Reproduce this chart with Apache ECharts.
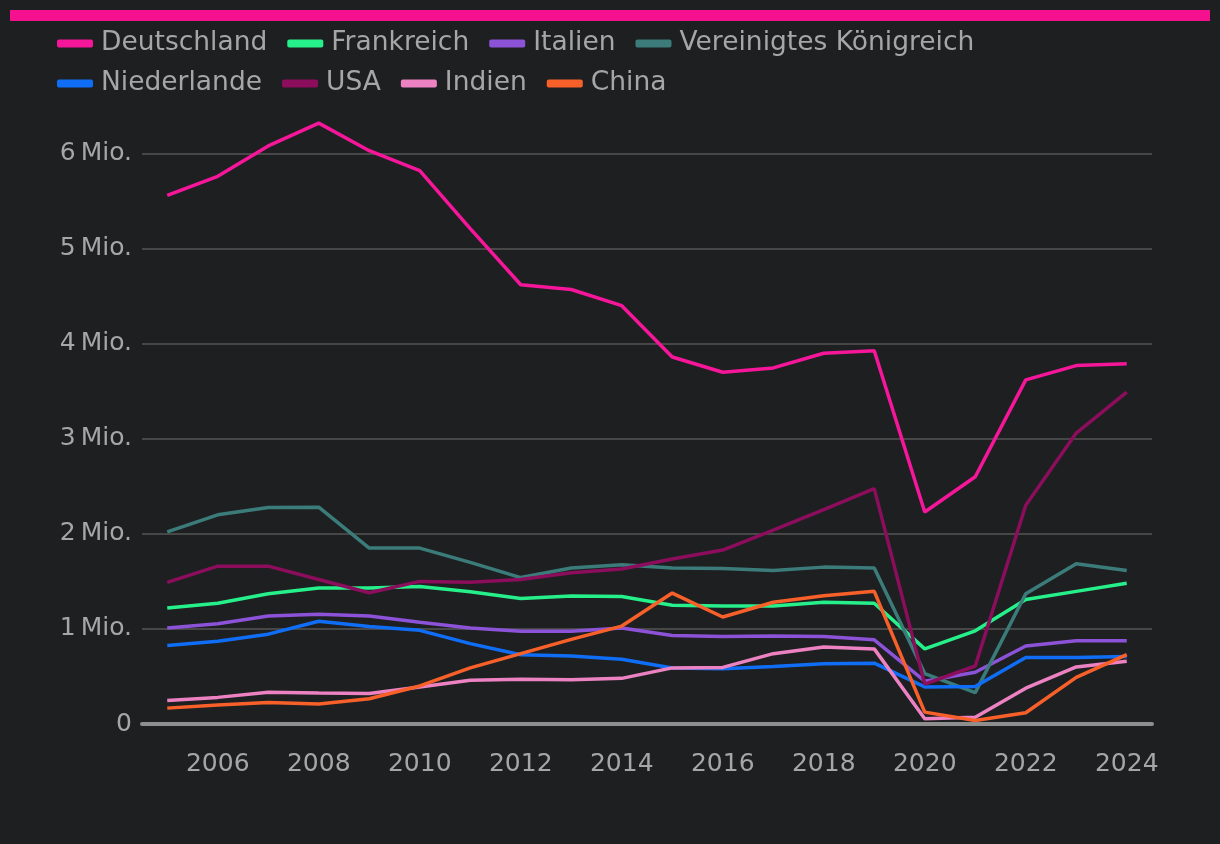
<!DOCTYPE html>
<html>
<head>
<meta charset="utf-8">
<script src="https://cdn.jsdelivr.net/npm/echarts@6/dist/echarts.min.js"></script>
<style>
html,body{margin:0;padding:0;background:#1e1f21;}
#chart{width:1220px;height:844px;}
</style>
</head>
<body>
<div id="chart"></div>
<script>
var years = ['2005','2006','2007','2008','2009','2010','2011','2012','2013','2014','2015','2016','2017','2018','2019','2020','2021','2022','2023','2024'];

var deutschland = [5.56,5.76,6.08,6.32,6.03,5.82,5.21,4.62,4.57,4.40,3.86,3.70,3.745,3.90,3.925,2.23,2.60,3.62,3.77,3.79];
var frankreich  = [1.22,1.27,1.37,1.43,1.43,1.447,1.39,1.32,1.345,1.34,1.25,1.24,1.24,1.28,1.27,0.79,0.98,1.31,1.395,1.48];
var italien     = [1.01,1.055,1.135,1.155,1.135,1.07,1.01,0.975,0.975,1.01,0.93,0.92,0.925,0.92,0.885,0.45,0.545,0.82,0.875,0.875];
var vk          = [2.02,2.20,2.276,2.28,1.85,1.85,1.70,1.54,1.64,1.675,1.64,1.635,1.615,1.65,1.64,0.53,0.33,1.37,1.686,1.615];
var niederlande = [0.826,0.87,0.945,1.08,1.026,0.985,0.845,0.728,0.715,0.68,0.59,0.58,0.605,0.634,0.64,0.39,0.395,0.70,0.70,0.71];
var usa         = [1.49,1.66,1.66,1.52,1.38,1.50,1.49,1.52,1.59,1.63,1.735,1.83,2.04,2.255,2.475,0.42,0.61,2.30,3.06,3.49];
var indien      = [0.247,0.28,0.335,0.325,0.32,0.39,0.46,0.47,0.465,0.48,0.59,0.595,0.74,0.81,0.79,0.055,0.07,0.377,0.60,0.66];
var china       = [0.167,0.20,0.226,0.21,0.265,0.40,0.59,0.74,0.89,1.03,1.377,1.125,1.28,1.35,1.395,0.125,0.037,0.118,0.49,0.73];

var seriesNames = ['Deutschland','Frankreich','Italien','Vereinigtes Königreich','Niederlande','USA','Indien','China'];
var legendRow1 = ['Deutschland','Frankreich','Italien','Vereinigtes Königreich'];
var legendRow2 = ['Niederlande','USA','Indien','China'];
var seriesData = [deutschland, frankreich, italien, vk, niederlande, usa, indien, china];
var colors = ['#f5169a','#26f08a','#8c52d8','#3b7c7a','#0f6ef5','#8b0d5c','#ec82c2','#f8602a'];

function toAbs(arr){ return arr.map(function(v){ return Math.round(v*1000000); }); }

var chart = echarts.init(document.getElementById('chart'), null, {renderer:'canvas'});
var FONT = 'DejaVu Sans';
var TXT = '#a6a6a6';

function legendCfg(data, top){
  return {
    data: data,
    left: 57,
    top: top,
    padding: 0,
    itemWidth: 36,
    itemHeight: 8,
    itemGap: 20,
    icon: 'roundRect',
    textStyle: {color: TXT, fontSize: 26.5, fontFamily: FONT, padding: [0,0,0,3]}
  };
}

var option = {
  backgroundColor: '#1e1f21',
  color: colors,
  animation: false,
  textStyle: {fontFamily: FONT},
  graphic: [{
    type: 'rect',
    shape: {x: 10, y: 10, width: 1200, height: 11},
    style: {fill: '#f5108f'}
  }],
  legend: [legendCfg(legendRow1, 30), legendCfg(legendRow2, 70)],
  grid: {left: 142, right: 68, top: 106, bottom: 120, containLabel: false},
  xAxis: {
    type: 'category',
    data: years,
    boundaryGap: true,
    axisLine: {show: true, lineStyle: {color: '#8e8e8e', width: 4}},
    axisTick: {show: false},
    axisLabel: {
      color: TXT, fontSize: 25, fontFamily: FONT, margin: 28,
      interval: function(i, v){ return parseInt(v,10) % 2 === 0; }
    },
    splitLine: {show: false}
  },
  yAxis: {
    type: 'value',
    min: 0,
    max: 6500000,
    interval: 1000000,
    axisLine: {show: false},
    axisTick: {show: false},
    splitLine: {show: true, showMaxLine: false, showMinLine: false, lineStyle: {color: '#565656', width: 1.5}},
    axisLabel: {
      color: TXT, fontSize: 25, fontFamily: FONT, margin: 10, showMaxLabel: false,
      formatter: function(v){
        if (v === 0) return '0';
        if (v % 1000000 !== 0) return '';
        return (v/1000000) + '\u2009Mio.';
      }
    }
  },
  series: seriesNames.map(function(n, i){
    return {
      name: n,
      type: 'line',
      data: toAbs(seriesData[i]),
      symbol: 'none',
      lineStyle: {width: 3.5, color: colors[i]},
      itemStyle: {color: colors[i]}
    };
  })
};
chart.setOption(option);
</script>
</body>
</html>
